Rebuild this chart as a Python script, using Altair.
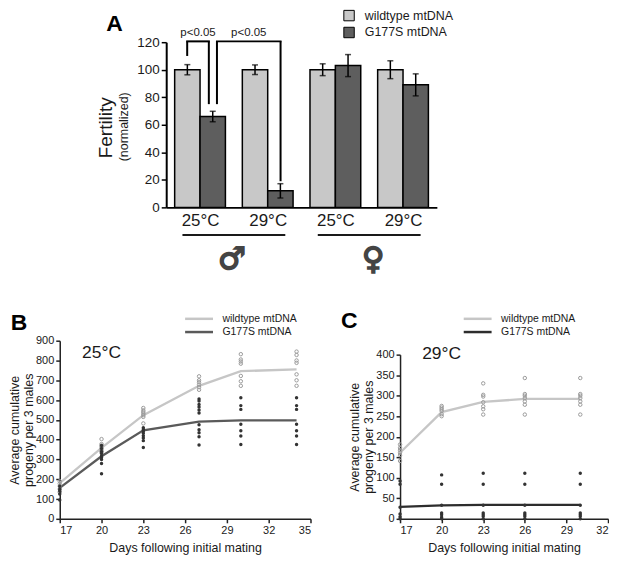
import json
import altair as alt
import pandas as pd

FONT = "Liberation Sans"
INK = "#1a1a1a"

# ---------------- Panel A data ----------------
genotypes = ["wildtype mtDNA", "G177S mtDNA"]
a_temp = ["25°C", "29°C", "25°C", "29°C"]
a_wt = [100, 100, 100, 100]
a_wt_err = [3.7, 3.5, 4.3, 6.5]
a_mut = [66, 12, 103, 89]
a_mut_err = [3.8, 5.2, 8.0, 8.0]
sex_symbols = ["♂", "♀"]
sig_labels = ["p<0.05", "p<0.05"]
# bracket legs: left x, left foot, right x, right foot, top (data units)
sig_left_x = [-0.19, 0.25]
sig_left_y = [110, 75]
sig_right_x = [0.13, 1.19]
sig_right_y = [75, 19]
sig_top = [120.6, 120.6]

# ---------------- Panel B data ----------------
b_days = [17, 20, 23, 27, 30, 34]
b_wt_mean = [180, 358, 524, 672, 746, 755]
b_mut_mean = [156, 316, 447, 491, 497, 497]
b_wt_pts = [
    [190, 178, 165, 150, 135],
    [403, 378, 370, 362, 352, 342, 335],
    [560, 548, 540, 532, 524, 515, 482],
    [720, 700, 690, 678, 665, 652],
    [832, 805, 795, 784, 722, 695, 672],
    [845, 828, 800, 788, 730, 700, 672],
]
b_mut_pts = [
    [165, 150, 140, 125, 95],
    [370, 355, 340, 330, 318, 310, 300, 280, 228],
    [460, 452, 443, 432, 420, 408, 395, 360],
    [605, 595, 578, 565, 550, 535, 475, 450, 435, 415, 373],
    [612, 572, 553, 478, 445, 418, 376],
    [612, 572, 553, 478, 445, 418, 376],
]

# ---------------- Panel C data ----------------
c_days = [17, 20, 23, 26, 30]
c_wt_mean = [161, 260, 285, 292, 292]
c_mut_mean = [29, 33, 34, 34, 34]
c_wt_pts = [
    [181, 173, 167, 161, 155, 141],
    [275, 271, 267, 263, 255, 250],
    [330, 302, 298, 284, 274, 267, 254],
    [343, 304, 300, 294, 286, 278, 254],
    [343, 304, 300, 294, 286, 278, 254],
]
c_mut_pts = [
    [92, 84, 28, 12, 5, 0],
    [107, 84, 33, 14, 10, 4, 0],
    [111, 84, 33, 14, 10, 6, 0],
    [111, 84, 33, 14, 10, 6, 0],
    [111, 84, 33, 14, 10, 6, 0],
]

# ================= Panel A =================
SHIFT = 107  # panel A's plot starts this far right of panel B's
BW = 0.375
rows = []
for g in range(4):
    rows.append(dict(geno_a=genotypes[0], x0=g - BW, x1=g, c=g - BW / 2, base=0,
                     val=a_wt[g], lo=a_wt[g] - a_wt_err[g], hi=a_wt[g] + a_wt_err[g]))
    rows.append(dict(geno_a=genotypes[1], x0=g, x1=g + BW, c=g + BW / 2, base=0,
                     val=a_mut[g], lo=a_mut[g] - a_mut_err[g], hi=a_mut[g] + a_mut_err[g]))
df_a = pd.DataFrame(rows)

df_sig = pd.DataFrame(dict(lx=sig_left_x, ly=sig_left_y, rx=sig_right_x, ry=sig_right_y,
                           top=sig_top, label=sig_labels))
df_sig["mid"] = (df_sig.lx + df_sig.rx) / 2
df_sig["ty"] = 127

df_sex = pd.DataFrame(dict(sym=sex_symbols, mid=[0.5, 2.5], sx=[0.47, 2.56]))
df_sex["u0"] = df_sex.mid - 0.76
df_sex["u1"] = df_sex.mid + 0.76
df_sex["uy"] = -20
df_sex["sy"] = -38

xs_a = alt.Scale(domain=[-0.5, 3.5], range=[SHIFT, SHIFT + 272], nice=False, zero=False)
ys_a = alt.Scale(domain=[0, 120], nice=False)

label_expr = json.dumps(a_temp, ensure_ascii=False) + "[datum.value]"
ax_x_a = alt.Axis(values=[0, 1, 2, 3], labelExpr=label_expr, tickSize=0, labelFontSize=17,
                  labelPadding=5, domainWidth=2, domainColor="black", grid=False, title=None,
                  labelColor=INK, labelFont=FONT)
ax_y_a = alt.Axis(values=list(range(0, 121, 20)), tickSize=5, tickWidth=1.5, tickColor="black",
                  domainWidth=2, domainColor="black", labelFontSize=13.5, labelPadding=2,
                  grid=False, title=None, labelColor=INK, labelFont=FONT, offset=-SHIFT)


def AX(field):
    return alt.X(field, scale=xs_a, axis=ax_x_a, title=None)


def AY(field):
    return alt.Y(field, scale=ys_a, axis=ax_y_a, title=None)


bars = alt.Chart(df_a).mark_bar(stroke="black", strokeWidth=1.5).encode(
    x=AX("x0:Q"), x2="x1:Q", y=AY("val:Q"), y2="base:Q",
    color=alt.Color("geno_a:N", scale=alt.Scale(domain=genotypes, range=["#c8c8c8", "#5e5e5e"]),
                    legend=alt.Legend(orient="none", legendX=SHIFT + 177.5, legendY=-33, title=None,
                                      symbolType="square", symbolSize=110, symbolStrokeColor="black",
                                      symbolStrokeWidth=1, symbolOpacity=1, labelFontSize=12.5,
                                      labelOffset=9.5, rowPadding=2, padding=0, labelColor=INK,
                                      labelFont=FONT)),
)
err_rule = alt.Chart(df_a).mark_rule(color="black", strokeWidth=1.5).encode(
    x=AX("c:Q"), y=AY("lo:Q"), y2="hi:Q")
cap_lo = alt.Chart(df_a).mark_tick(color="black", orient="horizontal", size=6, thickness=1.5).encode(
    x=AX("c:Q"), y=AY("lo:Q"))
cap_hi = alt.Chart(df_a).mark_tick(color="black", orient="horizontal", size=6, thickness=1.5).encode(
    x=AX("c:Q"), y=AY("hi:Q"))

br_kw = dict(color="black", strokeWidth=2)
br_left = alt.Chart(df_sig).mark_rule(**br_kw).encode(x=AX("lx:Q"), y=AY("ly:Q"), y2="top:Q")
br_top = alt.Chart(df_sig).mark_rule(strokeCap="square", **br_kw).encode(
    x=AX("lx:Q"), x2="rx:Q", y=AY("top:Q"))
br_right = alt.Chart(df_sig).mark_rule(**br_kw).encode(x=AX("rx:Q"), y=AY("ry:Q"), y2="top:Q")
sig_text = alt.Chart(df_sig).mark_text(fontSize=11.5, font=FONT, color=INK, baseline="middle").encode(
    x=AX("mid:Q"), y=AY("ty:Q"), text="label:N")

underline = alt.Chart(df_sex).mark_rule(color=INK, strokeWidth=2).encode(
    x=AX("u0:Q"), x2="u1:Q", y=AY("uy:Q"))
sex_text = alt.Chart(df_sex).mark_text(fontSize=31, font="DejaVu Sans", fontWeight="bold",
                                       color="#444444", stroke="#444444", strokeWidth=1.6,
                                       baseline="middle").encode(
    x=AX("sx:Q"), y=AY("sy:Q"), text="sym:N")

lab_a = alt.Chart(pd.DataFrame(dict(t=["A"]))).mark_text(
    fontSize=23, fontWeight="bold", font=FONT, color="black", baseline="middle").encode(
    x=alt.value(SHIFT - 52), y=alt.value(-18), text="t:N")
ytitle_a1 = alt.Chart(pd.DataFrame(dict(t=["Fertility"]))).mark_text(
    fontSize=19, font=FONT, color=INK, angle=270, baseline="middle").encode(
    x=alt.value(SHIFT - 60), y=alt.value(86), text="t:N")
ytitle_a2 = alt.Chart(pd.DataFrame(dict(t=["(normalized)"]))).mark_text(
    fontSize=12.5, font=FONT, color=INK, angle=270, baseline="middle").encode(
    x=alt.value(SHIFT - 42), y=alt.value(85), text="t:N")

chart_a = alt.layer(bars, err_rule, cap_lo, cap_hi, br_left, br_top, br_right, sig_text,
                    underline, sex_text, lab_a, ytitle_a1, ytitle_a2).properties(
    width=SHIFT + 272, height=166)


# ================= Panels B and C =================
def long_points(days, pts):
    out = []
    for d, vs in zip(days, pts):
        for v in vs:
            out.append(dict(day=d, v=v))
    return pd.DataFrame(out)


def make_panel(days, wt_mean, mut_mean, wt_pts, mut_pts, mut_color, xdom, xvals,
               ydom, yvals, yscale_range, height, width, temp_label, temp_y, letter, letter_xy,
               legend_x):
    line_colors = ["#c6c6c6", mut_color]
    df_wt_line = pd.DataFrame(dict(day=days, v=wt_mean))
    df_mut_line = pd.DataFrame(dict(day=days, v=mut_mean))
    df_wt = long_points(days, wt_pts)
    df_mut = long_points(days, mut_pts)
    xs = alt.Scale(domain=xdom, nice=False, zero=False)
    ys_kw = dict(domain=ydom, nice=False)
    if yscale_range is not None:
        ys_kw["range"] = yscale_range
    ys = alt.Scale(**ys_kw)
    ax_x = alt.Axis(values=xvals, tickSize=4, tickWidth=1.5, tickColor="#222", domainColor="#222",
                    domainWidth=1.5, labelFontSize=11, labelPadding=2, grid=False,
                    title="Days following initial mating", titleFontSize=12.5,
                    titleFontWeight="normal", titlePadding=6, labelColor=INK, titleColor=INK,
                    labelFont=FONT, titleFont=FONT)
    ax_y = alt.Axis(values=yvals, tickSize=4, tickWidth=1.5, tickColor="#222", domainColor="#222",
                    domainWidth=1.5, labelFontSize=11, labelPadding=2, grid=False,
                    title=["Average cumulative", "progeny per 3 males"], titleFontSize=12.5,
                    titleFontWeight="normal", titlePadding=0, titleLineHeight=14,
                    labelColor=INK, titleColor=INK, labelFont=FONT, titleFont=FONT)

    def PX(f):
        return alt.X(f, scale=xs, axis=ax_x)

    def PY(f):
        return alt.Y(f, scale=ys, axis=ax_y)

    layers = []
    for dfl, col in zip([df_wt_line, df_mut_line], line_colors):
        layers.append(alt.Chart(dfl).mark_line(strokeWidth=2.3, color=col).encode(
            x=PX("day:Q"), y=PY("v:Q")))
    layers.append(alt.Chart(df_wt).mark_point(filled=False, size=12, strokeWidth=1,
                                              color="#9a9a9a", opacity=1).encode(
        x=PX("day:Q"), y=PY("v:Q")))
    layers.append(alt.Chart(df_mut).mark_circle(size=12, color="#333333", opacity=1).encode(
        x=PX("day:Q"), y=PY("v:Q")))
    layers.append(alt.Chart(pd.DataFrame(dict(t=[temp_label], day=[20], v=[temp_y]))).mark_text(
        fontSize=17.5, font=FONT, color=INK, baseline="middle").encode(
        x=PX("day:Q"), y=PY("v:Q"), text="t:N"))
    layers.append(alt.Chart(pd.DataFrame(dict(t=[letter]))).mark_text(
        fontSize=23, fontWeight="bold", font=FONT, color="black", baseline="middle").encode(
        x=alt.value(letter_xy[0]), y=alt.value(letter_xy[1]), text="t:N"))
    # legend (line swatch + label per genotype)
    for name, col, ly in zip(genotypes, line_colors, [-22, -8.7]):
        leg = alt.Chart(pd.DataFrame(dict(t=[name])))
        layers.append(leg.mark_rule(strokeWidth=2.5, color=col).encode(
            x=alt.value(legend_x), x2=alt.value(legend_x + 28), y=alt.value(ly)))
        layers.append(leg.mark_text(fontSize=10.5, font=FONT, color=INK, align="left",
                                    baseline="middle").encode(
            x=alt.value(legend_x + 37.5), y=alt.value(ly), text="t:N"))
    return alt.layer(*layers).properties(width=width, height=height)


chart_b = make_panel(b_days, b_wt_mean, b_mut_mean, b_wt_pts, b_mut_pts, "#5a5a5a",
                     [17, 35], list(range(17, 36, 3)), [0, 900], list(range(0, 901, 100)), None,
                     179, 252, "25°C", 837, "B", (-41, -18), 126)
chart_c = make_panel(c_days, c_wt_mean, c_mut_mean, c_wt_pts, c_mut_pts, "#2d2d2d",
                     [17, 32], list(range(17, 33, 3)), [0, 400], list(range(0, 401, 50)), [179, 14],
                     179, 209, "29°C", 402, "C", (-51, -20), 64)

bottom = alt.hconcat(chart_b, chart_c, spacing=90, bounds="flush")

chart = alt.vconcat(chart_a, bottom, spacing=134, bounds="flush").properties(
    padding=0).configure(font=FONT).configure_view(stroke=None)

chart.save("out.html", embed_options={"renderer": "svg", "actions": False})
